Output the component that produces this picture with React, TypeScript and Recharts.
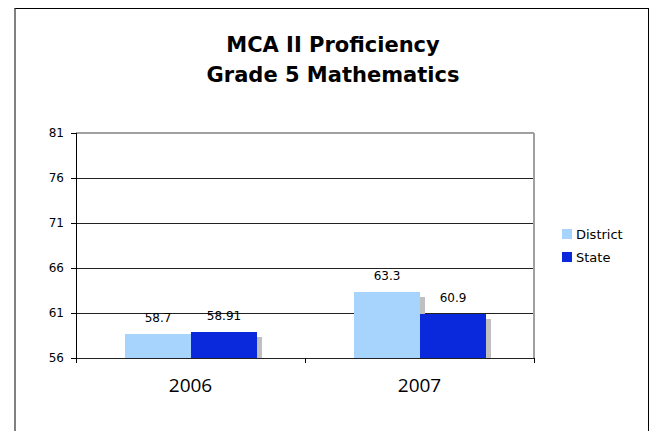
import React from 'react';
import { BarChart, Bar, XAxis, YAxis, CartesianGrid, ReferenceLine, LabelList } from 'recharts';

const years = ['2006', '2007'];
const districtValues = [58.7, 63.3];
const stateValues = [58.91, 60.9];
const yTicks = [56, 61, 66, 71, 76, 81];
const seriesNames = ['District', 'State'];
const titleLines = ['MCA II Proficiency', 'Grade 5 Mathematics'];

const COLORS = ['#A6D4FC', '#0A28DC'];
const SHADOW = '#C0C0C0';
const KEYS = ['district', 'state'];

const data = years.map((year, i) => ({
  year,
  district: districtValues[i],
  state: stateValues[i],
}));

const ShadowBar = (props: any) => {
  const { x, y, width, height, fill } = props;
  if (width == null || height == null) return null;
  return (
    <g shapeRendering="crispEdges">
      <rect x={x + 5} y={y + 5} width={width} height={Math.max(0, height - 5)} fill={SHADOW} />
      <rect x={x} y={y} width={width} height={height} fill={fill} />
    </g>
  );
};

const EmptyTick = () => <g />;

const CatTick = (props: any) => {
  const { x, y, payload, width, visibleTicksCount, index } = props;
  const count = visibleTicksCount || years.length;
  const band = width / count;
  const left = Math.round(x - band / 2) + 0.5;
  const right = Math.round(x + band / 2) + 0.5;
  return (
    <g>
      <line x1={left} x2={left} y1={y} y2={y + 5} stroke="#000" />
      {index === count - 1 && <line x1={right} x2={right} y1={y} y2={y + 5} stroke="#000" />}
      <text
        x={x}
        y={y + 34}
        textAnchor="middle"
        fontSize={19}
        fill="#000"
        fontFamily="'Open Sans', sans-serif"
      >
        {payload.value}
      </text>
    </g>
  );
};

const verdana = "Verdana, 'DejaVu Sans', sans-serif";

export default function App() {
  return (
    <div style={{ position: 'relative', width: 649, height: 431, overflow: 'hidden', background: '#fff' }}>
      <style>{`html,body{margin:0;padding:0;overflow:hidden;background:#fff}
.recharts-cartesian-grid line, .recharts-cartesian-axis-line, .recharts-cartesian-axis-tick-line, .recharts-reference-line line { shape-rendering: crispEdges; }`}</style>
      <div
        style={{
          position: 'absolute',
          left: 14,
          top: 8,
          width: 635,
          height: 423,
          boxSizing: 'border-box',
          borderTop: '1px solid #000',
          borderLeft: '2px solid #808080',
          borderRight: '1px solid #000',
        }}
      />
      <div style={{ position: 'absolute', left: 0, top: 0 }}>
        <BarChart
          width={649}
          height={431}
          data={data}
          margin={{ top: 133, right: 114, bottom: 33, left: 36 }}
          barSize={66}
          barGap={0}
        >
          <CartesianGrid vertical={false} stroke="#222" xAxisId="cat" yAxisId="left" />
          <XAxis
            xAxisId="cat"
            dataKey="year"
            tickLine={false}
            tickSize={0}
            tickMargin={0}
            axisLine={{ stroke: '#222' }}
            height={40}
            tick={CatTick}
            interval={0}
          />
          <YAxis
            yAxisId="left"
            domain={[56, 81]}
            ticks={yTicks}
            allowDataOverflow
            width={40}
            tickSize={5}
            tickMargin={7}
            axisLine={{ stroke: '#000' }}
            tickLine={{ stroke: '#000' }}
            tick={{ fontSize: 12, fill: '#000', fontFamily: verdana }}
          />
          <YAxis
            yAxisId="right"
            orientation="right"
            domain={[56, 81]}
            ticks={yTicks}
            width={1}
            tick={EmptyTick}
            tickLine={false}
            axisLine={{ stroke: '#a0a0a0', strokeWidth: 2 }}
          />
          <ReferenceLine y={81} yAxisId="left" xAxisId="cat" stroke="#a0a0a0" strokeWidth={2} />
          {KEYS.map((k, i) => (
            <Bar
              key={k}
              dataKey={k}
              name={seriesNames[i]}
              xAxisId="cat"
              yAxisId="left"
              fill={COLORS[i]}
              shape={ShadowBar}
              isAnimationActive={false}
            >
              <LabelList
                dataKey={k}
                position="top"
                offset={12}
                style={{ fontSize: 12, fill: '#000', fontFamily: verdana }}
              />
            </Bar>
          ))}
        </BarChart>
      </div>
      <svg
        width={649}
        height={431}
        style={{ position: 'absolute', left: 0, top: 0, pointerEvents: 'none' }}
      >
        {titleLines.map((t, i) => (
          <text
            key={t}
            x={333}
            y={52 + i * 29.5}
            textAnchor="middle"
            fontFamily={verdana}
            fontWeight="bold"
            fontSize={21}
            fill="#000"
          >
            {t}
          </text>
        ))}
        {seriesNames.map((n, i) => (
          <g key={n}>
            <rect x={562} y={229 + i * 23} width={10} height={10} fill={COLORS[i]} />
            <text x={576} y={239 + i * 23} fontFamily={verdana} fontSize={13} fill="#000">
              {n}
            </text>
          </g>
        ))}
      </svg>
    </div>
  );
}
